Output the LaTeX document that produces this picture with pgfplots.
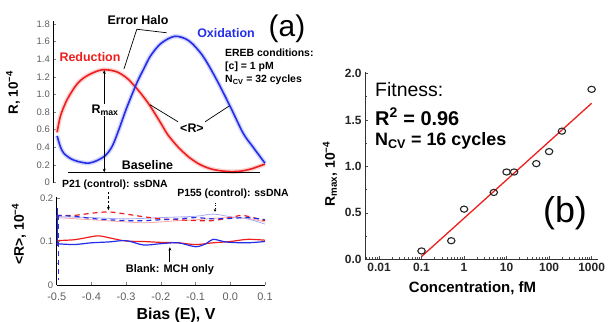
\documentclass[border=0pt]{standalone}
\usepackage{pgfplots}
\pgfplotsset{compat=1.18}
\usepackage{fontspec}
\setmainfont{Liberation Sans}
\usetikzlibrary{arrows.meta}

\definecolor{cred}{RGB}{238,30,30}
\definecolor{cblue}{RGB}{36,46,232}
\definecolor{tickgray}{RGB}{95,95,95}
\newcommand\fs[1]{\fontsize{#1}{#1}\selectfont}

\begin{document}
\begin{tikzpicture}
\useasboundingbox (0bp,0bp) rectangle (610bp,322bp);

% ---------------- (a) upper: CV responses ----------------
\begin{axis}[
  at={(53.3bp,139.4bp)}, anchor=south west, scale only axis,
  width=211.7bp, height=161.3bp,
  xmin=-0.511, xmax=0.1, ymin=0, ymax=1.83,
  axis lines=left,
  axis line style={-, line width=0.8bp},
  x axis line style={draw=none}, xtick=\empty,
  hide obscured y ticks=false,
  tick align=inside, major tick length=3bp,
  tick style={line width=0.6bp},
  ytick={0,0.2,0.4,0.6,0.8,1.0,1.2,1.4,1.6,1.8},
  yticklabels={0,0.2,0.4,0.6,0.8,1.0,1.2,1.4,1.6,1.8},
  yticklabel style={font=\fs{9.5}, text=tickgray},
  clip=false,
]
% error halos
\addplot[smooth, line width=4.5bp, color=cred!28, opacity=0.7] coordinates {
 (-0.5,0.57) (-0.49,0.76) (-0.47,0.95) (-0.44,1.13) (-0.41,1.22) (-0.37,1.28)
 (-0.33,1.26) (-0.30,1.19) (-0.275,1.09) (-0.25,0.97) (-0.23,0.86) (-0.20,0.67)
 (-0.18,0.54) (-0.15,0.40) (-0.12,0.29) (-0.09,0.21) (-0.06,0.16) (-0.03,0.135)
 (0.0,0.125) (0.03,0.13) (0.06,0.155) (0.1,0.21)};
\addplot[smooth, line width=4.5bp, color=cblue!28, opacity=0.7] coordinates {
 (-0.5,0.53) (-0.49,0.40) (-0.48,0.33) (-0.46,0.27) (-0.44,0.24) (-0.41,0.22)
 (-0.385,0.25) (-0.36,0.31) (-0.34,0.42) (-0.32,0.62) (-0.30,0.84) (-0.27,1.13)
 (-0.25,1.29) (-0.23,1.44) (-0.20,1.58) (-0.16,1.66) (-0.12,1.61) (-0.08,1.44)
 (-0.04,1.17) (0.0,0.86) (0.037,0.56) (0.066,0.40) (0.1,0.22)};
% mean responses
\addplot[smooth, line width=1.6bp, color=cred] coordinates {
 (-0.5,0.57) (-0.49,0.76) (-0.47,0.95) (-0.44,1.13) (-0.41,1.22) (-0.37,1.28)
 (-0.33,1.26) (-0.30,1.19) (-0.275,1.09) (-0.25,0.97) (-0.23,0.86) (-0.20,0.67)
 (-0.18,0.54) (-0.15,0.40) (-0.12,0.29) (-0.09,0.21) (-0.06,0.16) (-0.03,0.135)
 (0.0,0.125) (0.03,0.13) (0.06,0.155) (0.1,0.21)};
\addplot[smooth, line width=1.6bp, color=cblue] coordinates {
 (-0.5,0.53) (-0.49,0.40) (-0.48,0.33) (-0.46,0.27) (-0.44,0.24) (-0.41,0.22)
 (-0.385,0.25) (-0.36,0.31) (-0.34,0.42) (-0.32,0.62) (-0.30,0.84) (-0.27,1.13)
 (-0.25,1.29) (-0.23,1.44) (-0.20,1.58) (-0.16,1.66) (-0.12,1.61) (-0.08,1.44)
 (-0.04,1.17) (0.0,0.86) (0.037,0.56) (0.066,0.40) (0.1,0.22)};
% baseline and peak height
\draw[line width=0.9bp] (axis cs:-0.468,0.117) -- (axis cs:0.086,0.117);
\draw[line width=0.7bp, {Stealth[length=3.5bp,width=3bp]}-{Stealth[length=3.5bp,width=3bp]}]
  (axis cs:-0.364,1.275) -- (axis cs:-0.364,0.117);
% call-out leaders
\draw[line width=0.7bp] (axis cs:-0.307,1.29) -- (axis cs:-0.270,1.74) -- (axis cs:-0.184,1.70);
\draw[line width=0.7bp] (axis cs:-0.151,0.69) -- (axis cs:-0.232,0.884);
\draw[line width=0.7bp] (axis cs:-0.073,0.69) -- (axis cs:-0.003,0.87);
\end{axis}

% ---------------- (a) lower: controls ----------------
\begin{axis}[
  at={(56.7bp,37bp)}, anchor=south west, scale only axis,
  width=208.3bp, height=88.3bp,
  xmin=-0.5, xmax=0.1, ymin=0, ymax=0.203,
  axis lines=left,
  axis line style={-, line width=0.8bp},
  tick align=inside, major tick length=3bp, minor tick length=2bp,
  tick style={line width=0.6bp},
  xtick={-0.5,-0.4,-0.3,-0.2,-0.1,0,0.1},
  xticklabels={-0.5,-0.4,-0.3,-0.2,-0.1,0.0,0.1},
  ytick={0,0.1,0.2}, yticklabels={0,0.1,0.2},
  minor ytick={0.05,0.15},
  xticklabel style={font=\fs{11}, text=tickgray, yshift=-4bp},
  yticklabel style={font=\fs{9.5}, text=tickgray},
  clip=false,
]
% P21 / P155 controls (faint traces)
\addplot[smooth, line width=0.8bp, color=cred!40] coordinates {
 (-0.5,0.155) (-0.4,0.150) (-0.3,0.145) (-0.25,0.143) (-0.2,0.145) (-0.15,0.148)
 (-0.1,0.150) (-0.05,0.153) (0.0,0.155) (0.05,0.153) (0.1,0.145)};
\addplot[smooth, line width=0.8bp, color=cblue!40] coordinates {
 (-0.5,0.157) (-0.4,0.155) (-0.3,0.152) (-0.2,0.155) (-0.1,0.158) (-0.05,0.163)
 (0.0,0.157) (0.05,0.152) (0.1,0.140)};
% P21 / P155 controls (dashed traces)
\addplot[smooth, line width=1.2bp, color=cred, dash pattern=on 5bp off 4bp] coordinates {
 (-0.5,0.160) (-0.45,0.160) (-0.4,0.165) (-0.35,0.168) (-0.3,0.163) (-0.25,0.157)
 (-0.2,0.152) (-0.15,0.150) (-0.1,0.148) (-0.05,0.148) (0.0,0.155) (0.03,0.160)
 (0.05,0.158) (0.1,0.148)};
\addplot[smooth, line width=1.2bp, color=cblue, dash pattern=on 5bp off 4bp] coordinates {
 (-0.5,0.160) (-0.45,0.158) (-0.4,0.153) (-0.35,0.150) (-0.3,0.148) (-0.25,0.148)
 (-0.2,0.150) (-0.15,0.152) (-0.1,0.155) (-0.05,0.152) (0.0,0.153) (0.05,0.155)
 (0.1,0.150)};
\addplot[line width=1.2bp, color=cblue, dash pattern=on 5bp off 4bp] coordinates {
 (-0.495,0.160) (-0.495,0.011)};
% blank electrodes
\addplot[smooth, line width=1.2bp, color=cred] coordinates {
 (-0.5,0.102) (-0.45,0.104) (-0.42,0.108) (-0.38,0.113) (-0.34,0.107) (-0.3,0.101)
 (-0.25,0.100) (-0.2,0.098) (-0.15,0.097) (-0.1,0.093) (-0.05,0.097) (0.0,0.100)
 (0.05,0.105) (0.1,0.103)};
\addplot[smooth, line width=1.2bp, color=cblue] coordinates {
 (-0.5,0.095) (-0.45,0.093) (-0.4,0.097) (-0.35,0.099) (-0.3,0.102) (-0.25,0.092)
 (-0.2,0.095) (-0.15,0.097) (-0.1,0.088) (-0.07,0.095) (-0.05,0.105) (-0.02,0.100)
 (0.0,0.098) (0.05,0.097) (0.1,0.100)};
\addplot[line width=1.2bp, color=cblue] coordinates {(-0.498,0.176) (-0.498,0.090)};
% pointers
\draw[line width=0.7bp, dash pattern=on 2.5bp off 2bp, -{Stealth[length=3.5bp,width=3bp]}]
  (axis cs:-0.351,0.214) -- (axis cs:-0.351,0.172);
\draw[line width=0.6bp, dash pattern=on 1bp off 1.2bp, -{Stealth[length=3bp,width=2.6bp]}]
  (axis cs:-0.044,0.188) -- (axis cs:-0.044,0.168);
\draw[line width=0.8bp, -{Stealth[length=3.5bp,width=3bp]}]
  (axis cs:-0.174,0.052) -- (axis cs:-0.174,0.087);
\end{axis}

% ---------------- (b) calibration ----------------
\begin{axis}[
  at={(365bp,62.7bp)}, anchor=south west, scale only axis,
  width=233bp, height=187.6bp,
  xmode=log, log basis x=10,
  xmin=0.00468, xmax=1413, ymin=0, ymax=2.02,
  axis lines=left,
  axis line style={-, line width=0.8bp, black!80},
  tick align=inside, major tick length=3bp, minor tick length=1.8bp,
  tick style={line width=0.6bp, black!70},
  xtick={0.01,0.1,1,10,100,1000},
  xticklabels={0.01,0.1,1,10,100,1000},
  minor xtick={0.005,0.006,0.007,0.008,0.009,
    0.02,0.03,0.04,0.05,0.06,0.07,0.08,0.09,
    0.2,0.3,0.4,0.5,0.6,0.7,0.8,0.9,
    2,3,4,5,6,7,8,9,20,30,40,50,60,70,80,90,
    200,300,400,500,600,700,800,900},
  ytick={0,0.5,1.0,1.5,2.0},
  yticklabels={0.0,0.5,1.0,1.5,2.0},
  minor ytick={0.25,0.75,1.25,1.75},
  xticklabel style={font=\bfseries\fs{12}, text=black!85},
  yticklabel style={font=\bfseries\fs{12}, text=black!85},
  clip=false,
]
\addplot[line width=1.3bp, color=cred] coordinates {(0.1,0.03) (1000,1.68)};
\addplot[only marks, mark=o, mark size=3.1bp,
  mark options={line width=1.1bp, black!85, xscale=1.2}] coordinates {
 (0.1,0.09) (0.5,0.20) (1,0.54) (5,0.72) (10,0.94) (15,0.94)
 (50,1.03) (100,1.16) (200,1.38) (1000,1.83)};
\end{axis}

% ---------------- text ----------------
\node[font=\fs{30}] at (287bp,293bp) {(a)};
\node[font=\bfseries\fs{12.5}] at (138bp,302bp) {Error Halo};
\node[font=\bfseries\fs{12.5}, text=cblue] at (226bp,289bp) {Oxidation};
\node[font=\bfseries\fs{12.5}, text=cred] at (90bp,265bp) {Reduction};
\node[font=\bfseries\fs{10.5}, anchor=west, inner sep=0] at (225bp,269bp) {EREB conditions:};
\node[font=\bfseries\fs{10.5}, anchor=west, inner sep=0] at (225bp,255.5bp) {[c] = 1 pM};
\node[font=\bfseries\fs{10.5}, anchor=west, inner sep=0] at (225bp,242bp) {N\textsubscript{CV} = 32 cycles};
\node[font=\bfseries\fs{12.5}, fill=white, inner sep=1bp] at (105bp,212bp) {R\textsubscript{max}};
\node[font=\bfseries\fs{12.5}] at (147.5bp,157bp) {Baseline};
\node[font=\bfseries\fs{12.5}] at (192bp,194bp) {<R>};
\node[font=\bfseries\fs{10.5}] at (115bp,137bp) {P21 (control): ssDNA};
\node[font=\bfseries\fs{10.5}] at (233bp,128bp) {P155 (control): ssDNA};
\node[font=\bfseries\fs{11}] at (170bp,52bp) {Blank: MCH only};
\node[font=\bfseries\fs{16}] at (176bp,7bp) {Bias (E), V};
\node[font=\bfseries\fs{13.5}, rotate=90] at (13bp,229.5bp) {R, 10\textsuperscript{−4}};
\node[font=\bfseries\fs{14}, rotate=90] at (19bp,88bp) {<R>, 10\textsuperscript{−4}};

\node[font=\fs{19.5}, anchor=west, inner sep=0] at (375bp,232.7bp) {Fitness:};
\node[font=\bfseries\fs{20}, anchor=west, inner sep=0] at (375bp,205.3bp) {R\textsuperscript{2} = 0.96};
\node[font=\bfseries\fs{18}, anchor=west, inner sep=0] at (375bp,181.3bp) {N\textsubscript{CV} = 16 cycles};
\node[font=\fs{36}] at (565bp,109bp) {(b)};
\node[font=\bfseries\fs{14}, rotate=90] at (330bp,148bp) {R\textsubscript{max}, 10\textsuperscript{−4}};
\node[font=\bfseries\fs{15}] at (472.5bp,33.7bp) {Concentration, fM};
\end{tikzpicture}
\end{document}
